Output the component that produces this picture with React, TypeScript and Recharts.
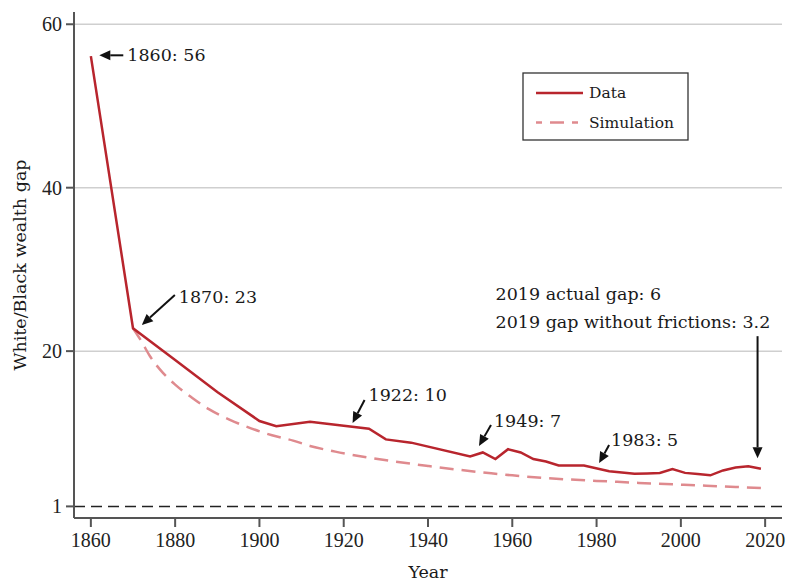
import { Label, Line, LineChart, ReferenceDot, ReferenceLine, XAxis, YAxis } from 'recharts';

const DATA_YEARS = [
  1860, 1870, 1880, 1890, 1900, 1904, 1912, 1926, 1930, 1936, 1950, 1953, 1956, 1959, 1962, 1965,
  1968, 1971, 1977, 1983, 1989, 1992, 1995, 1998, 2001, 2004, 2007, 2010, 2013, 2016, 2019,
];
const DATA_GAP = [
  56.1, 22.8, 18.9, 15.0, 11.45, 10.8, 11.35, 10.5, 9.2, 8.8, 7.1, 7.6, 6.8, 8.0, 7.6, 6.8,
  6.5, 6.0, 6.0, 5.3, 5.0, 5.03, 5.08, 5.57, 5.1, 4.95, 4.8, 5.4, 5.77, 5.9, 5.6,
];

const SIM_YEARS = [
  1870, 1872, 1874, 1877, 1880, 1884, 1888, 1893, 1898, 1903, 1908, 1912, 1918, 1925, 1932,
  1940, 1947, 1955, 1960, 1967, 1975, 1983, 1990, 1998, 2006, 2013, 2019,
];
const SIM_GAP = [
  22.8, 21.2, 19.4, 17.4, 15.9, 14.3, 12.9, 11.6, 10.55, 9.7, 9.05, 8.4, 7.7, 7.05, 6.5,
  5.95, 5.5, 5.05, 4.8, 4.5, 4.25, 4.05, 3.87, 3.7, 3.53, 3.38, 3.25,
];

const X_TICKS = [1860, 1880, 1900, 1920, 1940, 1960, 1980, 2000, 2020];
const Y_TICKS = [1, 20, 40, 60];
const GRID_Y = [20, 40, 60];

const SERIES_NAMES = ['Data', 'Simulation'];

// arrow tip in data coords; tail and text offsets are in px from the tip
const NOTES = [
  { year: 1862, value: 56.2, tail: [24, 0], text: [28, 6], lines: ['1860: 56'] },
  { year: 1872.1, value: 23.2, tail: [33, -30], text: [37, -22], lines: ['1870: 23'] },
  { year: 1922.1, value: 11.2, tail: [12, -23], text: [16, -22], lines: ['1922: 10'] },
  { year: 1952.1, value: 8.4, tail: [12, -21], text: [15, -19], lines: ['1949: 7'] },
  { year: 1980.6, value: 6.3, tail: [10, -18], text: [12, -17], lines: ['1983: 5'] },
  {
    year: 2018.2,
    value: 6.9,
    tail: [0, -122],
    text: [-262, -158],
    lines: ['2019 actual gap: 6', '2019 gap without frictions: 3.2'],
  },
];

const RED = '#b8252d';
const PINK = '#df8a8e';
const SERIF = '"DejaVu Serif", serif';
const TICK_FONT = '"Liberation Serif", serif';

const dataRows = DATA_YEARS.map((year, i) => ({ year, gap: DATA_GAP[i] }));
const simRows = SIM_YEARS.map((year, i) => ({ year, gap: SIM_GAP[i] }));

function Arrow(props: any) {
  const { cx, cy, note } = props;
  if (cx == null || cy == null) return null;
  const tx = cx + note.tail[0];
  const ty = cy + note.tail[1];
  const ang = Math.atan2(cy - ty, cx - tx);
  const len = 11;
  const half = 5;
  const bx = cx - len * Math.cos(ang);
  const by = cy - len * Math.sin(ang);
  const px = -Math.sin(ang) * half;
  const py = Math.cos(ang) * half;
  return (
    <g>
      <line x1={tx} y1={ty} x2={bx} y2={by} stroke="#111" strokeWidth={2} />
      <polygon points={`${cx},${cy} ${bx + px},${by + py} ${bx - px},${by - py}`} fill="#111" />
      {note.lines.map((t: string, i: number) => (
        <text
          key={t}
          x={cx + note.text[0]}
          y={cy + note.text[1] + i * 27.5}
          fontFamily={SERIF}
          fontSize={17.5}
          fill="#1a1a1a"
        >
          {t}
        </text>
      ))}
    </g>
  );
}

function LegendBox() {
  return (
    <svg
      width={170}
      height={72}
      style={{ position: 'absolute', left: 521, top: 71 }}
    >
      <rect x={2} y={2} width={165} height={67} fill="#fff" stroke="#333" strokeWidth={1.3} />
      <line x1={15} y1={22} x2={62} y2={22} stroke={RED} strokeWidth={2.5} />
      <line x1={15} y1={51.5} x2={62} y2={51.5} stroke={PINK} strokeWidth={2.5} strokeDasharray="6 8 14 8" />
      {SERIES_NAMES.map((name, i) => (
        <text
          key={name}
          x={68}
          y={22 + i * 29.5}
          dy="0.35em"
          fontFamily={SERIF}
          fontSize={15.5}
          fill="#1a1a1a"
        >
          {name}
        </text>
      ))}
    </svg>
  );
}

export default function App() {
  return (
    <div style={{ position: 'absolute', left: 0, top: 0, width: 786, height: 582, background: '#fff' }}>
      <LineChart width={786} height={582} margin={{ top: 12, right: 4, bottom: 0, left: 0 }}>
        <XAxis
          dataKey="year"
          type="number"
          domain={[1856, 2024]}
          ticks={X_TICKS}
          allowDataOverflow
          height={64}
          tickSize={9}
          tickMargin={6}
          stroke="#555"
          strokeWidth={2}
          tick={{ fill: '#222', fontSize: 20, fontFamily: TICK_FONT }}
        >
          <Label
            value="Year"
            position="insideBottom"
            offset={4}
            style={{ fontFamily: SERIF, fontSize: 17.5, fill: '#1a1a1a' }}
          />
        </XAxis>
        <YAxis
          type="number"
          domain={[-0.42, 61.5]}
          ticks={Y_TICKS}
          allowDataOverflow
          width={74}
          tickSize={8}
          tickMargin={4}
          stroke="#555"
          strokeWidth={2}
          tick={{ fill: '#222', fontSize: 20, fontFamily: TICK_FONT }}
        >
          <Label
            value="White/Black wealth gap"
            angle={-90}
            position="insideLeft"
            offset={20}
            style={{ textAnchor: 'middle', fontFamily: SERIF, fontSize: 17.5, fill: '#1a1a1a' }}
          />
        </YAxis>
        {GRID_Y.map((v) => (
          <ReferenceLine key={v} y={v} stroke="#cfcfcf" strokeWidth={1.5} />
        ))}
        <ReferenceLine y={1} stroke="#222" strokeWidth={1.5} strokeDasharray="11 6" />
        <Line
          data={simRows}
          dataKey="gap"
          name={SERIES_NAMES[1]}
          type="monotone"
          stroke={PINK}
          strokeWidth={2.5}
          strokeDasharray="14 8"
          dot={false}
          isAnimationActive={false}
        />
        <Line
          data={dataRows}
          dataKey="gap"
          name={SERIES_NAMES[0]}
          type="linear"
          stroke={RED}
          strokeWidth={2.5}
          dot={false}
          isAnimationActive={false}
        />
        {NOTES.map((n) => (
          <ReferenceDot
            key={n.lines[0]}
            x={n.year}
            y={n.value}
            r={0}
            shape={(p: any) => <Arrow {...p} note={n} />}
          />
        ))}
      </LineChart>
      <LegendBox />
    </div>
  );
}
